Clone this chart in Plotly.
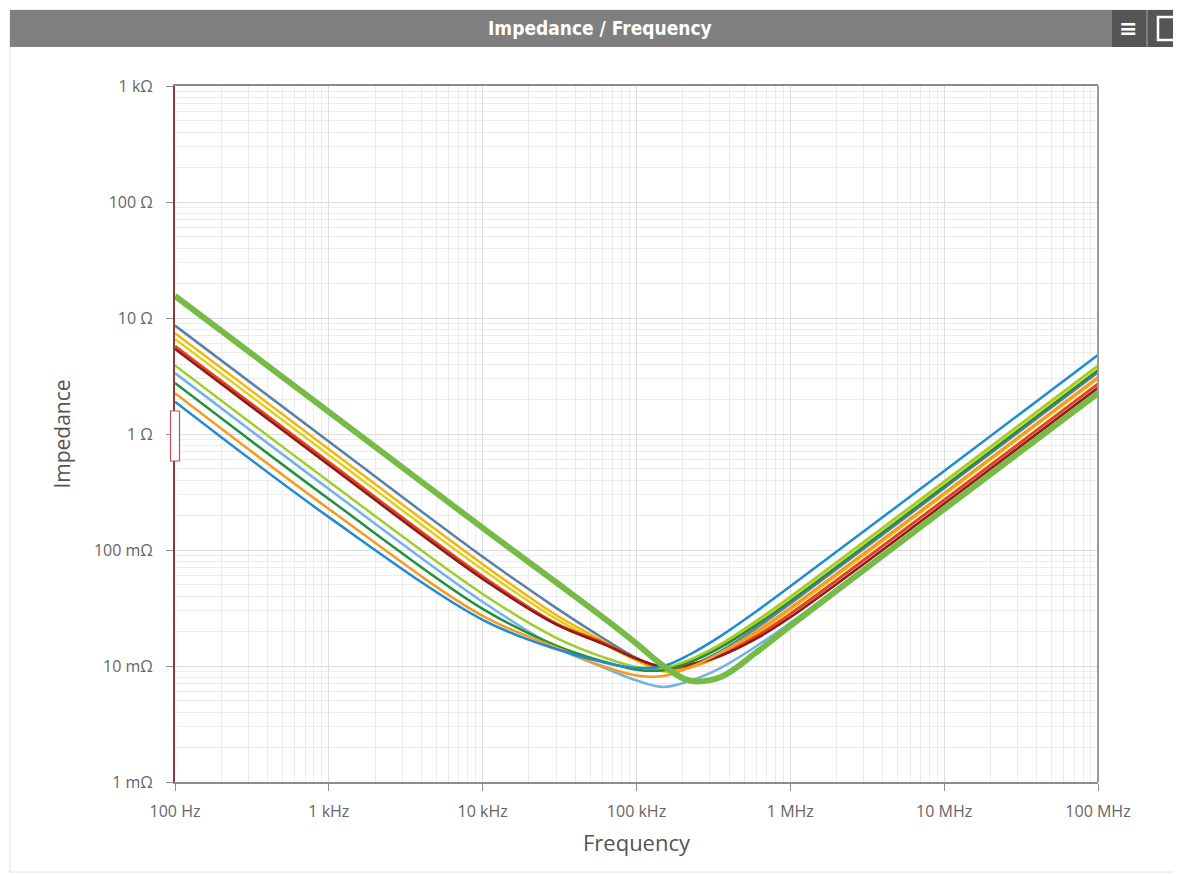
import plotly.graph_objects as go

freq_hz = [100, 1e3, 1e4, 3e4, 6e4, 1e5, 1.5e5, 2.2e5, 3.5e5, 6e5, 1e6, 1e7, 1e8]

# Impedance values (ohm) per series
z_steel_blue = [8.6, 0.86, 0.0874, 0.0317, 0.0175, 0.0117, 0.0095, 0.0101, 0.0134, 0.0212, 0.0344, 0.34, 3.4]
z_gold = [7.4, 0.74, 0.0755, 0.0275, 0.0165, 0.0112, 0.0090, 0.0096, 0.0123, 0.0191, 0.0306, 0.30, 3.0]
z_yellow = [6.6, 0.66, 0.0678, 0.0255, 0.0158, 0.0112, 0.0096, 0.0109, 0.0148, 0.0237, 0.0385, 0.38, 3.8]
z_red = [5.7, 0.57, 0.0591, 0.0232, 0.0160, 0.0115, 0.0096, 0.0101, 0.0123, 0.0180, 0.0281, 0.27, 2.7]
z_dark_red = [5.4, 0.54, 0.0563, 0.0228, 0.0156, 0.0116, 0.0098, 0.0103, 0.0122, 0.0172, 0.0263, 0.25, 2.5]
z_yellow_green = [3.9, 0.39, 0.0418, 0.0175, 0.0120, 0.0098, 0.0096, 0.0113, 0.0154, 0.0245, 0.0396, 0.39, 3.9]
z_light_blue = [3.35, 0.335, 0.0358, 0.0145, 0.0098, 0.0075, 0.0066, 0.0074, 0.0096, 0.0148, 0.0236, 0.23, 2.3]
z_dark_green = [2.75, 0.2754, 0.0311, 0.0150, 0.0110, 0.0093, 0.0092, 0.0107, 0.0144, 0.0225, 0.0362, 0.355, 3.55]
z_orange = [2.25, 0.226, 0.0270, 0.0145, 0.0100, 0.0083, 0.0082, 0.0097, 0.0130, 0.0199, 0.0318, 0.31, 3.1]
z_blue = [1.9, 0.192, 0.0250, 0.0140, 0.0108, 0.0096, 0.0100, 0.0125, 0.0180, 0.0295, 0.0486, 0.48, 4.8]
z_thick_green = [15.5, 1.55, 0.155, 0.0527, 0.0265, 0.0156, 0.0100, 0.0075, 0.0080, 0.0131, 0.0222, 0.225, 2.25]

series = [
    ("steel blue", z_steel_blue, "#5b7fa8", 2.5),
    ("gold", z_gold, "#f2b50c", 2.5),
    ("yellow", z_yellow, "#e4cf12", 2.5),
    ("red", z_red, "#e5451c", 3),
    ("dark red", z_dark_red, "#8e1b1b", 2.5),
    ("yellow green", z_yellow_green, "#9fcd2a", 2.5),
    ("light blue", z_light_blue, "#72b2e6", 2.5),
    ("dark green", z_dark_green, "#21903c", 2.5),
    ("orange", z_orange, "#f39b22", 2.5),
    ("blue", z_blue, "#1f8bd3", 2.5),
    ("thick green", z_thick_green, "#76bb45", 6),
]

x_tickvals = [1e2, 1e3, 1e4, 1e5, 1e6, 1e7, 1e8]
x_ticktext = ["100 Hz", "1 kHz", "10 kHz", "100 kHz", "1 MHz", "10 MHz", "100 MHz"]
y_tickvals = [1e-3, 1e-2, 1e-1, 1, 10, 100, 1000]
y_ticktext = ["1 mΩ", "10 mΩ", "100 mΩ", "1 Ω", "10 Ω", "100 Ω", "1 kΩ"]

minor_x = [k * 10 ** d for d in range(2, 8) for k in range(2, 10)]
minor_y = [k * 10 ** d for d in range(-3, 3) for k in range(2, 10)]

fig = go.Figure()
for name, z, color, w in series:
    fig.add_trace(go.Scatter(
        x=freq_hz, y=z, mode="lines", name=name,
        line=dict(color=color, width=w, shape="spline", smoothing=1.0),
        showlegend=False, hoverinfo="skip",
    ))

# page has an 8px body margin: figure coordinates = screen coordinates - 8
OFF = 8
W, H = 1181 - OFF, 876 - OFF
L, T = 175 - OFF, 86 - OFF
R, B = W - (1098 - OFF), H - (782 - OFF)
pw, ph = W - L - R, H - T - B


def px(x):
    return (x - OFF - L) / pw


def py(y):
    return (H - B - (y - OFF)) / ph


font_main = "Open Sans, Liberation Sans, Arial, sans-serif"

fig.update_layout(
    width=W, height=H,
    margin=dict(l=L, r=R, t=T, b=B, pad=0),
    paper_bgcolor="white", plot_bgcolor="white",
    font=dict(family=font_main, color="#555555", size=16),
    xaxis=dict(
        type="log", range=[2, 8], tickvals=x_tickvals, ticktext=x_ticktext,
        showgrid=True, gridcolor="#dcdcdc", gridwidth=1,
        minor=dict(tickvals=minor_x, showgrid=True, gridcolor="#ececec", gridwidth=1),
        showline=True, linecolor="#8c8c8c", linewidth=2, mirror=True,
        ticks="outside", ticklen=7, tickcolor="#8c8c8c", tickwidth=1,
        ticklabelstandoff=7,
        tickfont=dict(size=16, color="#666666"),
        title=dict(text="Frequency", font=dict(size=22, color="#555555"), standoff=14),
        zeroline=False,
    ),
    yaxis=dict(
        type="log", range=[-3, 3], tickvals=y_tickvals, ticktext=y_ticktext,
        showgrid=True, gridcolor="#dcdcdc", gridwidth=1,
        minor=dict(tickvals=minor_y, showgrid=True, gridcolor="#ececec", gridwidth=1),
        showline=True, linecolor="#8a3b3b", linewidth=2, mirror=False,
        ticks="outside", ticklen=7, tickcolor="#8c8c8c", tickwidth=1,
        ticklabelstandoff=10,
        tickfont=dict(size=16, color="#666666"),
        title=dict(text="Impedance", font=dict(size=21, color="#555555"), standoff=18),
        zeroline=False,
    ),
)

shapes = [
    # outer card border
    dict(type="rect", xref="paper", yref="paper", x0=px(10), x1=px(1181), y0=py(872), y1=py(10),
         line=dict(color="#e2e2e2", width=1), fillcolor="rgba(0,0,0,0)", layer="below"),
    # header bar
    dict(type="rect", xref="paper", yref="paper", x0=px(10), x1=px(1181), y0=py(47), y1=py(10),
         line=dict(width=0), fillcolor="#7f7f7f"),
    # icon buttons
    dict(type="rect", xref="paper", yref="paper", x0=px(1112), x1=px(1146), y0=py(47), y1=py(10),
         line=dict(width=0), fillcolor="#555555"),
    dict(type="rect", xref="paper", yref="paper", x0=px(1148), x1=px(1181), y0=py(47), y1=py(10),
         line=dict(width=0), fillcolor="#555555"),
    dict(type="rect", xref="paper", yref="paper", x0=px(1158), x1=px(1181), y0=py(40), y1=py(17),
         line=dict(color="white", width=2.5), fillcolor="rgba(0,0,0,0)"),
    # right plot border
    dict(type="line", xref="paper", yref="paper", x0=1, x1=1, y0=0, y1=1,
         line=dict(color="#9a9a9a", width=2)),
    # range handle on the y axis
    dict(type="rect", xref="paper", yref="paper", x0=px(170.5), x1=px(179.5), y0=py(461), y1=py(411),
         line=dict(color="#c0505a", width=1.2), fillcolor="white"),
]
fig.update_layout(shapes=shapes)

fig.add_annotation(
    x=px(600), y=py(28.5), xref="paper", yref="paper", text="<b>Impedance / Frequency</b>",
    showarrow=False,
    font=dict(family="Liberation Sans Narrow, DejaVu Sans Condensed, sans-serif", size=19, color="white"),
    xanchor="center", yanchor="middle",
)
fig.add_annotation(
    x=px(1128), y=py(28), xref="paper", yref="paper", text="<b>≡</b>",
    showarrow=False, font=dict(family="DejaVu Sans, sans-serif", size=22, color="white"),
    xanchor="center", yanchor="middle",
)

fig.write_html("out.html")
